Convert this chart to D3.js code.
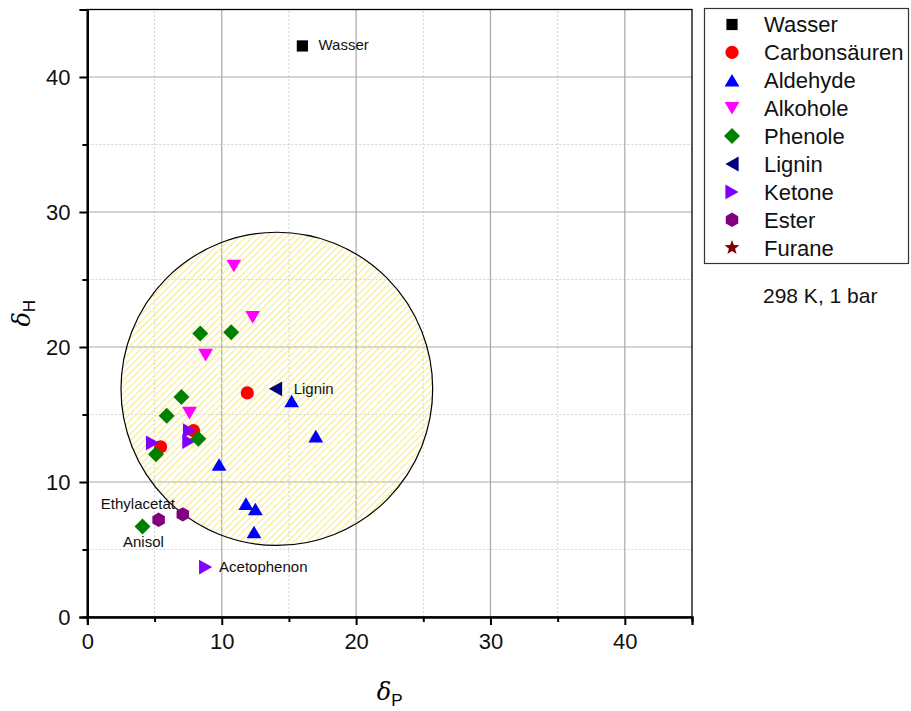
<!DOCTYPE html>
<html>
<head>
<meta charset="utf-8">
<script src="https://cdn.jsdelivr.net/npm/d3@7"></script>
<style>
  body { margin: 0; background: #fff; }
  text { font-family: "Liberation Sans", Arial, sans-serif; }
</style>
</head>
<body>
<div id="chart"></div>
<script>
// data (δP, δH)
var wasser = [[16.0, 42.3]];
var carbonsaeuren = [[11.9, 16.6], [7.9, 13.8], [5.45, 12.6]];
var aldehyde = [[15.2, 16.0], [17.0, 13.4], [9.8, 11.3], [11.8, 8.4], [12.5, 8.0], [12.4, 6.3]];
var alkohole = [[10.9, 26.0], [12.3, 22.2], [8.8, 19.4], [7.6, 15.1]];
var phenole = [[8.4, 21.0], [10.7, 21.1], [7.0, 16.3], [5.9, 14.9], [8.25, 13.2], [5.1, 12.05], [4.1, 6.7]];
var lignin = [[14.0, 16.9]];
var ketone = [[4.85, 12.9], [7.6, 13.8], [7.55, 13.0], [8.8, 3.7]];
var ester = [[5.3, 7.2], [7.1, 7.6]];
var furane = [];

// Hansen sphere of lignin: centre δP, centre δH, radius
var sphere = [14.1, 16.9, 11.6];

var xTicks = [0, 10, 20, 30, 40];
var yTicks = [0, 10, 20, 30, 40];
var minorTicks = [5, 15, 25, 35];

// annotations [text, δP, δH]
var labels = [
  ['Wasser', 17.2, 42.0],
  ['Lignin', 15.35, 16.5],
  ['Ethylacetat', 1.0, 8.0],
  ['Anisol', 2.65, 5.2],
  ['Acetophenon', 9.8, 3.33]
];

var series = [
  { name: 'Wasser', data: wasser, color: '#000000', shape: 'square' },
  { name: 'Carbonsäuren', data: carbonsaeuren, color: '#ff0000', shape: 'circle' },
  { name: 'Aldehyde', data: aldehyde, color: '#0000ff', shape: 'up' },
  { name: 'Alkohole', data: alkohole, color: '#ff00ff', shape: 'down' },
  { name: 'Phenole', data: phenole, color: '#008000', shape: 'diamond' },
  { name: 'Lignin', data: lignin, color: '#000080', shape: 'left' },
  { name: 'Ketone', data: ketone, color: '#8000ff', shape: 'right' },
  { name: 'Ester', data: ester, color: '#800080', shape: 'hexagon' },
  { name: 'Furane', data: furane, color: '#800000', shape: 'star' }
];
// drawing order in the plot (ketone sits under the diamonds)
var drawOrder = ['Wasser', 'Carbonsäuren', 'Aldehyde', 'Alkohole', 'Ketone', 'Phenole', 'Lignin', 'Ester', 'Furane'];

var W = 911, H = 711;
var margin = { left: 87.4, right: 219, top: 9.5, bottom: 94 };

var svg = d3.select('#chart').append('svg')
  .attr('width', W)
  .attr('height', H);

var x = d3.scaleLinear().domain([0, 45]).range([margin.left, W - margin.right]);
var y = d3.scaleLinear().domain([0, 45]).range([H - margin.bottom, margin.top]);

// marker paths centred on their bounding box
function shapePath(shape) {
  switch (shape) {
    case 'square': return 'M-5.6,-5.6H5.6V5.6H-5.6Z';
    case 'circle': return 'M6.6,0A6.6,6.6 0 1,1 -6.6,0A6.6,6.6 0 1,1 6.6,0Z';
    case 'up': return 'M0,-6.3L7.4,6.3L-7.4,6.3Z';
    case 'down': return 'M0,6.3L7.4,-6.3L-7.4,-6.3Z';
    case 'diamond': return 'M0,-8L8,0L0,8L-8,0Z';
    case 'left': return 'M-6.6,0L6.6,-7.4L6.6,7.4Z';
    case 'right': return 'M6.6,0L-6.6,-7.4L-6.6,7.4Z';
    case 'hexagon':
      return d3.range(6).map(function(i) {
        var a = Math.PI / 3 * i - Math.PI / 2;
        return (i ? 'L' : 'M') + (7.2 * Math.cos(a)).toFixed(2) + ',' + (7.2 * Math.sin(a)).toFixed(2);
      }).join('') + 'Z';
    case 'star':
      return d3.range(10).map(function(i) {
        var a = Math.PI / 5 * i - Math.PI / 2;
        var r = i % 2 ? 3.2 : 7.8;
        return (i ? 'L' : 'M') + (r * Math.cos(a)).toFixed(2) + ',' + (r * Math.sin(a)).toFixed(2);
      }).join('') + 'Z';
  }
}

// hatch pattern for the sphere
var defs = svg.append('defs');
defs.append('pattern')
  .attr('id', 'hatch')
  .attr('patternUnits', 'userSpaceOnUse')
  .attr('width', 4.8)
  .attr('height', 4.8)
  .attr('patternTransform', 'rotate(45)')
  .append('rect')
  .attr('width', 1.1)
  .attr('height', 4.8)
  .attr('fill', '#f5eb8a');

// grid
var grid = svg.append('g');
minorTicks.forEach(function(v) {
  grid.append('line')
    .attr('x1', x(v)).attr('x2', x(v)).attr('y1', y(0)).attr('y2', y(45))
    .attr('stroke', '#c8c8c8').attr('stroke-width', 0.8).attr('stroke-dasharray', '2,2');
  grid.append('line')
    .attr('x1', x(0)).attr('x2', x(45)).attr('y1', y(v)).attr('y2', y(v))
    .attr('stroke', '#c8c8c8').attr('stroke-width', 0.8).attr('stroke-dasharray', '2,2');
});
xTicks.slice(1).forEach(function(v) {
  grid.append('line')
    .attr('x1', x(v)).attr('x2', x(v)).attr('y1', y(0)).attr('y2', y(45))
    .attr('stroke', '#a8a8a8').attr('stroke-width', 1.2);
});
yTicks.slice(1).forEach(function(v) {
  grid.append('line')
    .attr('x1', x(0)).attr('x2', x(45)).attr('y1', y(v)).attr('y2', y(v))
    .attr('stroke', '#a8a8a8').attr('stroke-width', 1.2);
});

// Hansen sphere
svg.append('ellipse')
  .attr('cx', x(sphere[0]))
  .attr('cy', y(sphere[1]))
  .attr('rx', x(sphere[0] + sphere[2]) - x(sphere[0]))
  .attr('ry', y(sphere[1]) - y(sphere[1] + sphere[2]))
  .attr('fill', 'url(#hatch)')
  .attr('stroke', '#000')
  .attr('stroke-width', 1.2);

// frame
svg.append('rect')
  .attr('x', x(0)).attr('y', y(45))
  .attr('width', x(45) - x(0)).attr('height', y(0) - y(45))
  .attr('fill', 'none').attr('stroke', '#000').attr('stroke-width', 1.3);

// axes
var xAxis = svg.append('g')
  .attr('transform', 'translate(0,' + y(0) + ')')
  .call(d3.axisBottom(x).tickValues(xTicks).tickSize(8).tickPadding(8).tickFormat(d3.format('d')));
var xMinor = svg.append('g')
  .attr('transform', 'translate(0,' + y(0) + ')')
  .call(d3.axisBottom(x).tickValues(minorTicks).tickSize(5).tickFormat(''));
var yAxis = svg.append('g')
  .attr('transform', 'translate(' + x(0) + ',0)')
  .call(d3.axisLeft(y).tickValues(yTicks).tickSize(8).tickPadding(9).tickFormat(d3.format('d')));
var yMinor = svg.append('g')
  .attr('transform', 'translate(' + x(0) + ',0)')
  .call(d3.axisLeft(y).tickValues(minorTicks).tickSize(5).tickFormat(''));

[xAxis, xMinor, yAxis, yMinor].forEach(function(a) {
  a.select('.domain').attr('stroke', '#000').attr('stroke-width', 2.2);
  a.selectAll('.tick line').attr('stroke', '#000').attr('stroke-width', 2);
  a.selectAll('.tick text')
    .attr('fill', '#111')
    .style('font-family', '"Liberation Sans", Arial, sans-serif')
    .style('font-size', '22px');
});

// axis titles
var xt = svg.append('text')
  .attr('x', x(22.5)).attr('y', 700)
  .attr('text-anchor', 'middle')
  .style('font-size', '24px');
xt.append('tspan').style('font-style', 'italic').style('font-family', '"DejaVu Serif", serif').text('δ');
xt.append('tspan').attr('dy', 6).style('font-size', '17px').text('P');

var yt = svg.append('text')
  .attr('transform', 'translate(30,' + y(22.5) + ') rotate(-90)')
  .attr('text-anchor', 'middle')
  .style('font-size', '24px');
yt.append('tspan').style('font-style', 'italic').style('font-family', '"DejaVu Serif", serif').text('δ');
yt.append('tspan').attr('dy', 5).style('font-size', '17px').text('H');

// markers
var byName = {};
series.forEach(function(s) { byName[s.name] = s; });
drawOrder.forEach(function(n) {
  var s = byName[n];
  svg.append('g').selectAll('path')
    .data(s.data)
    .enter()
    .append('path')
    .attr('d', shapePath(s.shape))
    .attr('transform', function(d) { return 'translate(' + x(d[0]) + ',' + y(d[1]) + ')'; })
    .attr('fill', s.color);
});

// labels in the plot
svg.append('g').selectAll('text')
  .data(labels)
  .enter()
  .append('text')
  .attr('x', function(d) { return x(d[1]); })
  .attr('y', function(d) { return y(d[2]); })
  .style('font-size', '15px')
  .attr('fill', '#111')
  .text(function(d) { return d[0]; });

// legend
var legend = svg.append('g');
legend.append('rect')
  .attr('x', 704.5).attr('y', 8.5)
  .attr('width', 204).attr('height', 255)
  .attr('fill', '#fff').attr('stroke', '#333').attr('stroke-width', 1.2);
var item = legend.selectAll('g.item')
  .data(series)
  .enter()
  .append('g')
  .attr('class', 'item')
  .attr('transform', function(d, i) { return 'translate(732,' + (24.5 + i * 27.9) + ')'; });
item.append('path')
  .attr('d', function(d) { return shapePath(d.shape); })
  .attr('fill', function(d) { return d.color; });
item.append('text')
  .attr('x', 32)
  .attr('dy', '0.36em')
  .attr('fill', '#111')
  .style('font-size', '22px')
  .text(function(d) { return d.name; });

svg.append('text')
  .attr('x', 763).attr('y', 303)
  .attr('fill', '#111')
  .style('font-size', '21px')
  .text('298 K, 1 bar');
</script>
</body>
</html>
